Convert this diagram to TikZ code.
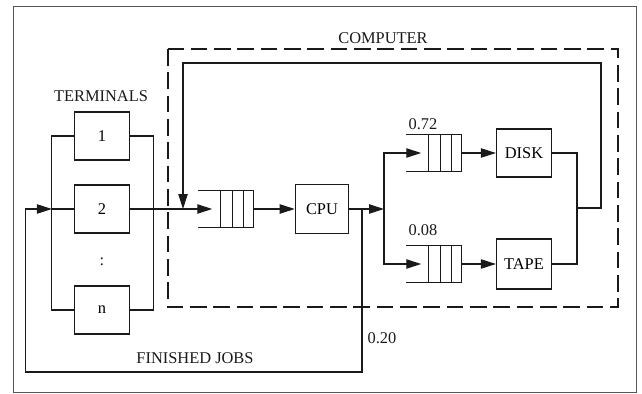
\documentclass[tikz,border=0pt]{standalone}
\usepackage{fontspec}
\setmainfont{Liberation Serif}
\usetikzlibrary{arrows.meta,calc,positioning}
\newcommand{\qnfont}{\fontsize{14}{16}\selectfont}
\definecolor{qnink}{HTML}{1A1A1A}
\definecolor{qnframe}{HTML}{555555}
\tikzset{
  qnbox/.style={draw=qnink,rectangle,line width=1pt,inner sep=0pt,font=\qnfont},
  qnqueue/.style={rectangle,inner sep=0pt,minimum width=1.65cm,minimum height=1.12cm},
  qnwire/.style={draw=qnink,line width=1pt},
  qnflow/.style={draw=qnink,line width=1pt,-{Triangle[length=4.5mm,width=2.8mm]}},
  qnlabel/.style={font=\qnfont,text=qnink,inner sep=0pt},
}

\begin{document}
\begin{tikzpicture}[x=0.03cm,y=-0.03cm]
  \path[use as bounding box] (0,0) rectangle (642,394);
  \draw[draw=qnframe,line width=0.7pt] (13,6) rectangle (636,392);
  % computer
  \draw[qnwire,dash pattern=on 5mm off 2mm] (168,49) rectangle (618,307);
  \node[qnlabel] (computer) at (383,38) {COMPUTER};
  % terminals
  \node[qnlabel] (terminals) at (101,96) {TERMINALS};
  \foreach \t/\y in {1/136,2/209,n/310}
    {\node[qnbox,minimum width=1.65cm,minimum height=1.44cm] (t\t) at (102,\y) {\t};}
  \node[qnlabel] (tdots) at (102,262) {:};
  \draw[qnwire] (t1.west) -- ++(-22,0) |- (tn.west);
  \draw[qnwire] (t1.east) -- ++(23,0) |- (tn.east);
  \draw[qnwire] (t2.west) -- ++(-22,0);
  % servers
  \node[qnqueue] (qcpu) at (226,209) {};
  \node[qnqueue] (qdisk) at (434,153) {};
  \node[qnqueue] (qtape) at (434,264) {};
  \node[qnbox,minimum width=1.6cm,minimum height=1.47cm] (cpu) at (322,209) {CPU};
  \node[qnbox,minimum width=1.65cm,minimum height=1.44cm] (disk) at (524,153) {DISK};
  \node[qnbox,minimum width=1.65cm,minimum height=1.5cm] (tape) at (524,264) {TAPE};
  \foreach \q in {qcpu,qdisk,qtape}
    {\draw[qnwire] (\q.north west) -- (\q.north east) -- (\q.south east) -- (\q.south west);
     \foreach \f in {0.4,0.61,0.82}
       {\draw[qnwire] ($(\q.north west)!\f!(\q.north east)$) -- ($(\q.south west)!\f!(\q.south east)$);}}
  \coordinate (entry) at (183,209);
  \coordinate (fin) at (362,209);
  \coordinate (split) at (384,209);
  \coordinate (merge) at (577,208);
  % flows
  \draw[qnflow] (t2.east) -- ($(qcpu.west)+(14,0)$);
  \draw[qnflow] (qcpu.east) -- (cpu.west);
  \draw[qnflow] (cpu.east) -- (split);
  \draw[qnflow] (split) |- ($(qdisk.west)+(15,0)$);
  \draw[qnflow] (split) |- ($(qtape.west)+(15,0)$);
  \draw[qnflow] (qdisk.east) -- (disk.west);
  \draw[qnflow] (qtape.east) -- (tape.west);
  \draw[qnwire] (disk.east) -| (merge);
  \draw[qnwire] (tape.east) -| (merge);
  \draw[qnflow] (merge) -- ++(24,0) -- ++(0,-145) -| (entry);
  \draw[qnflow] (fin) -- ++(0,163) -| ($(t2.west)+(-48,0)$) -- ($(t2.west)+(-22,0)$);
  % probabilities
  \node[qnlabel] (pdisk) at (423,124) {0.72};
  \node[qnlabel] (ptape) at (423,230) {0.08};
  \node[qnlabel] (pfin) at (382,338) {0.20};
  \node[qnlabel] (finished) at (195,358) {FINISHED JOBS};
\end{tikzpicture}
\end{document}
